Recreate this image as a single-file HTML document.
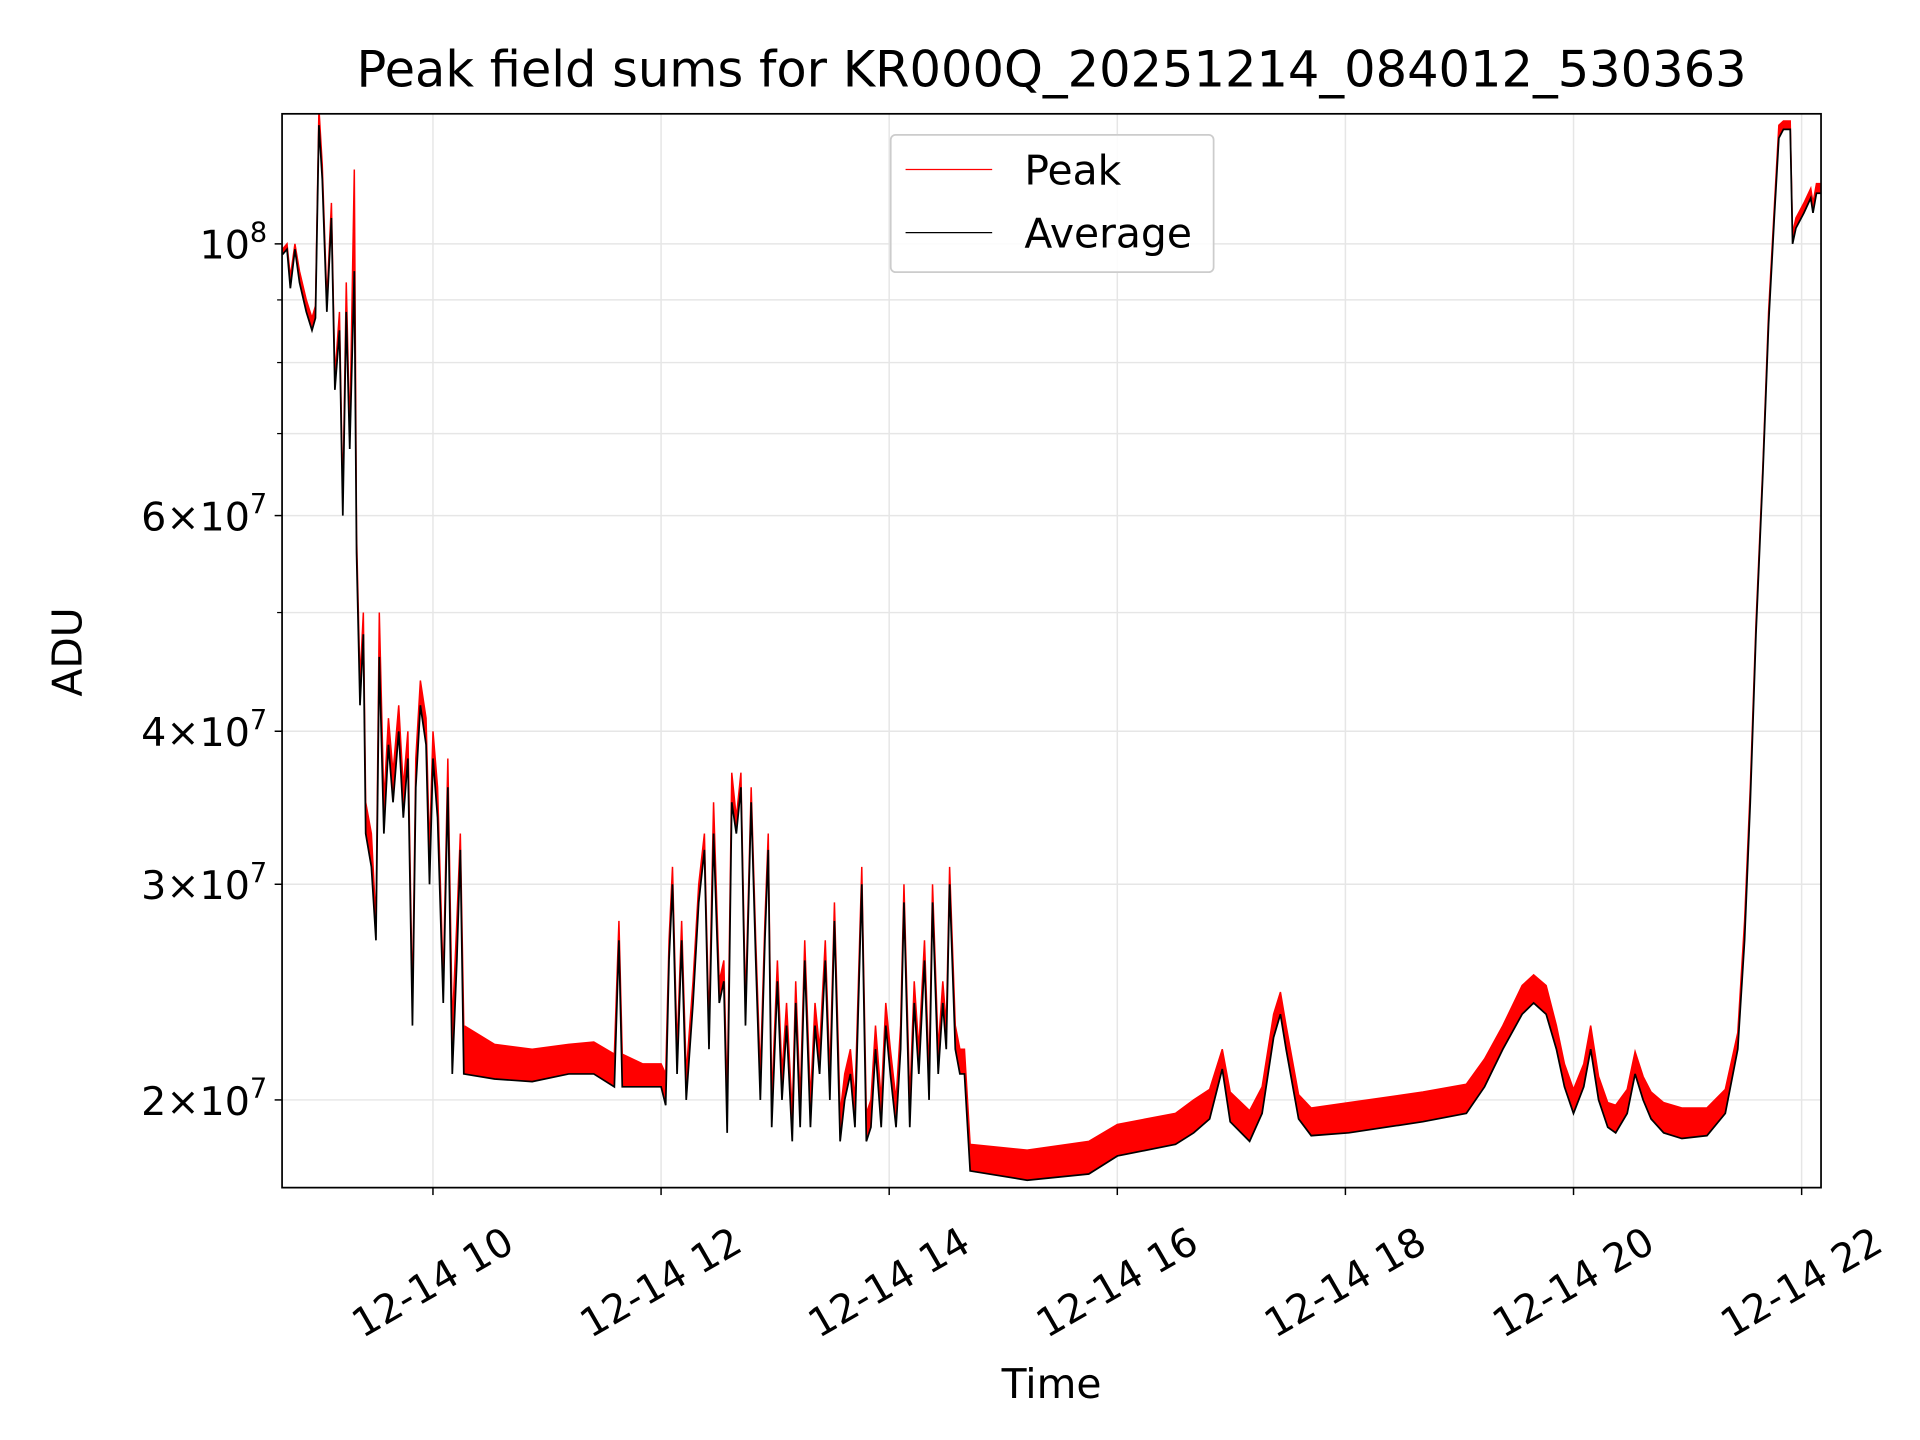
<!DOCTYPE html>
<html><head><meta charset="utf-8"><style>
html,body{margin:0;padding:0;background:#fff;}
svg{display:block;font-family:"DejaVu Sans","Liberation Sans",sans-serif;}
</style></head><body>
<svg id="chart" width="1920" height="1440" viewBox="0 0 1552 1164" xmlns="http://www.w3.org/2000/svg">
<rect x="0" y="0" width="1552" height="1164" fill="#fff"/>
<text x="850" y="70" font-size="40" text-anchor="middle">Peak field sums for KR000Q_20251214_084012_530363</text>
<g id="grid"></g>
<g id="series"></g>
<rect x="228" y="92" width="1244" height="868" fill="none" stroke="#000" stroke-width="1.4"/>
<g id="axes"></g>
<text transform="translate(66,527) rotate(-90)" font-size="33" text-anchor="middle">ADU</text>
<text x="850" y="1130" font-size="33" text-anchor="middle">Time</text>
<g>
<rect x="720" y="109" width="261" height="111" rx="4" fill="#fff" fill-opacity="0.85" stroke="#ccc" stroke-width="1.4"/>
<line x1="732" y1="137" x2="802" y2="137" stroke="#f00" stroke-width="1"/>
<text x="828" y="149" font-size="33">Peak</text>
<line x1="732" y1="188" x2="802" y2="188" stroke="#000" stroke-width="1"/>
<text x="828" y="200" font-size="33">Average</text>
</g>
</svg>
<script>
const times=[8.68,8.72,8.75,8.79,8.83,8.89,8.94,8.97,9.00,9.03,9.07,9.11,9.14,9.18,9.21,9.24,9.27,9.31,9.33,9.36,9.39,9.41,9.46,9.50,9.53,9.57,9.61,9.65,9.70,9.74,9.78,9.82,9.85,9.89,9.94,9.97,10.00,10.04,10.09,10.13,10.17,10.21,10.24,10.27,10.54,10.87,11.19,11.41,11.59,11.63,11.66,11.84,12.00,12.04,12.07,12.10,12.14,12.18,12.22,12.28,12.33,12.38,12.42,12.46,12.51,12.55,12.58,12.62,12.66,12.70,12.74,12.79,12.83,12.87,12.91,12.94,12.97,13.02,13.06,13.10,13.15,13.18,13.22,13.26,13.31,13.35,13.39,13.44,13.48,13.52,13.57,13.61,13.66,13.70,13.76,13.80,13.84,13.88,13.93,13.97,14.01,14.06,14.10,14.13,14.18,14.22,14.26,14.31,14.35,14.38,14.43,14.47,14.50,14.53,14.58,14.62,14.66,14.71,15.21,15.75,16.00,16.51,16.67,16.81,16.92,16.99,17.16,17.27,17.37,17.43,17.48,17.59,17.70,18.03,18.68,19.06,19.22,19.38,19.55,19.65,19.76,19.85,19.92,20.00,20.09,20.15,20.22,20.30,20.37,20.47,20.54,20.61,20.68,20.79,20.95,21.17,21.33,21.44,21.50,21.55,21.60,21.66,21.71,21.76,21.80,21.84,21.90,21.92,21.95,22.02,22.08,22.10,22.13,22.17];
const avgE7=[9.8,9.9,9.2,9.9,9.3,8.8,8.5,8.7,12.5,11.3,8.8,10.5,7.6,8.5,6.0,8.8,6.8,9.5,5.6,4.2,4.8,3.3,3.1,2.7,4.6,3.3,3.9,3.5,4.0,3.4,3.8,2.3,3.6,4.2,3.9,3.0,3.8,3.4,2.4,3.6,2.1,2.6,3.2,2.1,2.08,2.07,2.1,2.1,2.05,2.7,2.05,2.05,2.05,1.98,2.6,3.0,2.1,2.7,2.0,2.4,2.9,3.2,2.2,3.3,2.4,2.5,1.88,3.5,3.3,3.6,2.3,3.5,2.6,2.0,2.7,3.2,1.9,2.5,2.0,2.3,1.85,2.4,1.9,2.6,1.9,2.3,2.1,2.6,2.0,2.8,1.85,2.0,2.1,1.9,3.0,1.85,1.9,2.2,1.9,2.3,2.1,1.9,2.2,2.9,1.9,2.4,2.1,2.6,2.0,2.9,2.1,2.4,2.2,3.0,2.2,2.1,2.1,1.75,1.72,1.74,1.8,1.84,1.88,1.93,2.12,1.92,1.85,1.95,2.25,2.35,2.2,1.93,1.87,1.88,1.92,1.95,2.05,2.2,2.35,2.4,2.35,2.2,2.05,1.95,2.05,2.2,2.0,1.9,1.88,1.95,2.1,2.0,1.93,1.88,1.86,1.87,1.95,2.2,2.7,3.5,4.8,6.5,8.6,10.5,12.2,12.4,12.4,10.0,10.3,10.6,10.9,10.6,11.0,11.0];
const peakE7=[9.9,10.0,9.4,10.0,9.5,9.0,8.7,8.9,12.9,11.6,9.0,10.8,7.8,8.8,6.2,9.3,7.0,11.5,5.8,4.4,5.0,3.5,3.3,2.8,5.0,3.5,4.1,3.7,4.2,3.6,4.0,2.4,3.8,4.4,4.1,3.2,4.0,3.6,2.5,3.8,2.3,2.8,3.3,2.3,2.22,2.2,2.22,2.23,2.18,2.8,2.18,2.14,2.14,2.1,2.7,3.1,2.2,2.8,2.1,2.5,3.0,3.3,2.3,3.5,2.5,2.6,2.0,3.7,3.4,3.7,2.4,3.6,2.7,2.1,2.8,3.3,2.0,2.6,2.1,2.4,1.95,2.5,2.0,2.7,2.0,2.4,2.2,2.7,2.1,2.9,1.95,2.1,2.2,2.0,3.1,1.95,2.0,2.3,2.0,2.4,2.2,2.0,2.3,3.0,2.0,2.5,2.2,2.7,2.1,3.0,2.2,2.5,2.3,3.1,2.3,2.2,2.2,1.84,1.82,1.85,1.91,1.95,2.0,2.04,2.2,2.03,1.96,2.05,2.35,2.45,2.3,2.02,1.97,1.99,2.03,2.06,2.16,2.3,2.48,2.53,2.48,2.3,2.14,2.04,2.14,2.3,2.09,1.99,1.98,2.04,2.19,2.09,2.03,1.99,1.97,1.97,2.04,2.27,2.8,3.6,4.9,6.6,8.8,10.7,12.5,12.6,12.6,10.2,10.5,10.8,11.1,10.8,11.2,11.2];
const yTickVals=[2e7,3e7,4e7,6e7,1e8];
const yTickLabels=['2×10','3×10','4×10','6×10','10'];
const yTickExps=['7','7','7','7','8'];
const yMinorVals=[5e7,7e7,8e7,9e7];
const xTickHours=[10,12,14,16,18,20,22];
const xTickLabels=['12-14 10','12-14 12','12-14 14','12-14 16','12-14 18','12-14 20','12-14 22'];

const PL=228,PR=1472,PT=92,PB=960;
const X0=8.677,X1=22.17,YMIN=1.696e7,YMAX=1.277e8;
function xs(h){return PL+(h-X0)/(X1-X0)*(PR-PL);}
function ys(v){return PB-(Math.log10(v)-Math.log10(YMIN))/(Math.log10(YMAX)-Math.log10(YMIN))*(PB-PT);}
const NS='http://www.w3.org/2000/svg';
function mk(tag,attrs,parent){const e=document.createElementNS(NS,tag);for(const k in attrs)e.setAttribute(k,attrs[k]);parent.appendChild(e);return e;}
const grid=document.getElementById('grid'),axes=document.getElementById('axes'),series=document.getElementById('series');

xTickHours.forEach((h,i)=>{
  const x=xs(h);
  const g=mk('line',{x1:x,y1:PT,x2:x,y2:PB,stroke:'#e6e6e6','stroke-width':1.2},grid);
  
  
  const t=mk('line',{x1:x,y1:PB,x2:x,y2:PB+6,stroke:'#000','stroke-width':1.2},axes);
  
  
  const cy=PB+77;
  const lb=mk('text',{x:x,y:cy,'font-size':32,'text-anchor':'middle','dominant-baseline':'central',transform:'rotate(-30 '+x+' '+cy+')'},axes);
  lb.textContent=xTickLabels[i];
  
  
});
yMinorVals.forEach(v=>{
  const y=ys(v);
  const g=mk('line',{x1:PL,y1:y,x2:PR,y2:y,stroke:'#e6e6e6','stroke-width':1.2},grid);
  
  
  const t=mk('line',{x1:PL-4,y1:y,x2:PL,y2:y,stroke:'#000','stroke-width':1},axes);
  
  
});
yTickVals.forEach((v,i)=>{
  const y=ys(v);
  const g=mk('line',{x1:PL,y1:y,x2:PR,y2:y,stroke:'#e6e6e6','stroke-width':1.2},grid);
  
  
  const t=mk('line',{x1:PL-6,y1:y,x2:PL,y2:y,stroke:'#000','stroke-width':1.2},axes);
  
  
  const lb=mk('text',{x:PL-12,y:y+12,'font-size':32,'text-anchor':'end'},axes);
  
  
  const base=mk('tspan',{},lb);
  base.textContent=yTickLabels[i];
  const ex=mk('tspan',{'font-size':22,dy:-14},lb);
  ex.textContent=yTickExps[i];
});
function pts(vals){return vals.map((v,i)=>xs(times[i]).toFixed(1)+','+ys(v*1e7).toFixed(1));}
function path(vals){return pts(vals).map((p,i)=>(i?'L':'M')+p).join('');}
const clip=mk('clipPath',{id:'pc'},series);
mk('rect',{x:PL,y:PT,width:PR-PL,height:PB-PT},clip);
const band=mk('polygon',{points:pts(peakE7).concat(pts(avgE7).reverse()).join(' '),fill:'#f00',stroke:'none','clip-path':'url(#pc)'},series);


const pk=mk('path',{d:path(peakE7),fill:'none',stroke:'#f00','stroke-width':1.2,'clip-path':'url(#pc)'},series);


const av=mk('path',{d:path(avgE7),fill:'none',stroke:'#000','stroke-width':1.4,'clip-path':'url(#pc)'},series);


</script>
</body></html>
